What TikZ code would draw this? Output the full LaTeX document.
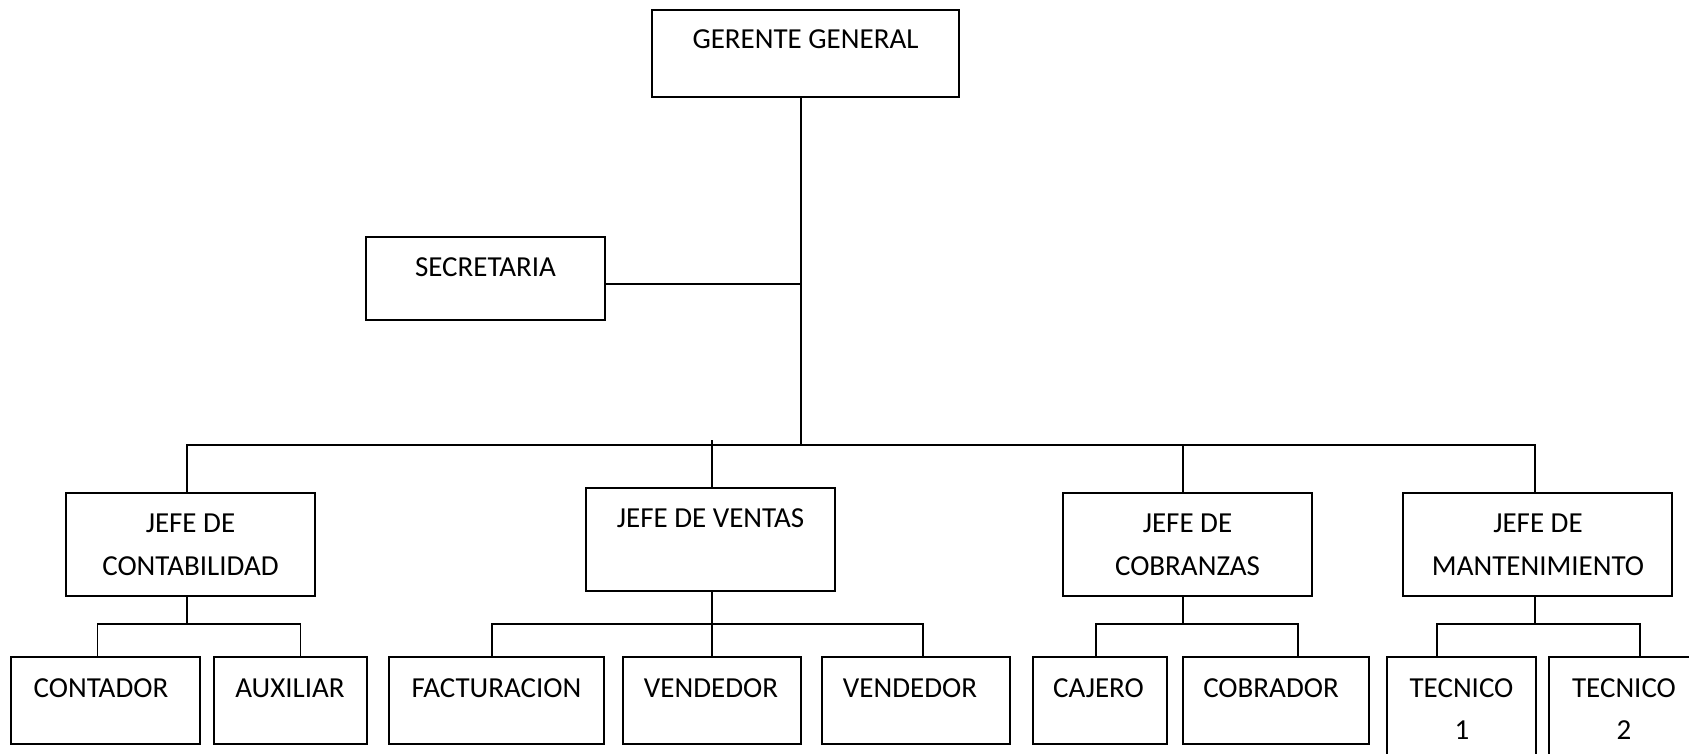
\documentclass[tikz,border=0pt]{standalone}
\usepackage{fontspec}
\setmainfont{Carlito}
\usetikzlibrary{calc}
% box given by its top-left and bottom-right corners (y grows downwards)
\newcommand\orgbox[5]{\node[box, minimum width={(#4)-(#2)}, minimum height={(#5)-(#3)}] (#1) at (#2,#3) {};}
\begin{document}
\begin{tikzpicture}[x=1pt,y=-1pt,
  box/.style={draw, line width=1.3pt, inner sep=0pt, outer sep=0pt, anchor=north west},
  txt/.style={font=\fontsize{29}{35}\selectfont, inner sep=0pt, anchor=base},
  link/.style={line width=1.3pt}]
\useasboundingbox (0,0) rectangle (1689,754);
\fill[white] (0,0) rectangle (1689,754);
\clip (0,0) rectangle (1689,754);

% boxes
\orgbox{gg}{652}{10}{959}{97}
\orgbox{sec}{366}{237}{605}{320}
\orgbox{jc}{66}{493}{315}{596}
\orgbox{jv}{586}{488}{835}{591}
\orgbox{jco}{1063}{493}{1312}{596}
\orgbox{jm}{1403}{493}{1672}{596}
\orgbox{con}{11}{657}{200}{744}
\orgbox{aux}{214}{657}{367}{744}
\orgbox{fac}{389}{657}{604}{744}
\orgbox{vd1}{623}{657}{801}{744}
\orgbox{vd2}{822}{657}{1010}{744}
\orgbox{caj}{1033}{657}{1167}{744}
\orgbox{cob}{1183}{657}{1369}{744}
\orgbox{tc1}{1387}{657}{1536}{790}
\orgbox{tc2}{1549}{657}{1699}{790}

% labels
\node[txt] (gg-t) at (805.5,49) {GERENTE GENERAL};
\node[txt] (sec-t) at (485.5,276) {SECRETARIA};
\node[txt] (jc-t1) at (190.5,532) {JEFE DE};
\node[txt] (jc-t2) at (190.5,575) {CONTABILIDAD};
\node[txt] (jv-t) at (710.5,527) {JEFE DE VENTAS};
\node[txt] (jco-t1) at (1187.5,532) {JEFE DE};
\node[txt] (jco-t2) at (1187.5,575) {COBRANZAS};
\node[txt] (jm-t1) at (1538,532) {JEFE DE};
\node[txt] (jm-t2) at (1538,575) {MANTENIMIENTO};
\node[txt] (con-t) at (101,697) {CONTADOR};
\node[txt] (aux-t) at (290,697) {AUXILIAR};
\node[txt] (fac-t) at (496.5,697) {FACTURACION};
\node[txt] (vd1-t) at (711,697) {VENDEDOR};
\node[txt] (vd2-t) at (910,697) {VENDEDOR};
\node[txt] (caj-t) at (1098.5,697) {CAJERO};
\node[txt] (cob-t) at (1271,697) {COBRADOR};
\node[txt] (tc1-t1) at (1461.5,697) {TECNICO};
\node[txt] (tc1-t2) at (1462,739) {1};
\node[txt] (tc2-t1) at (1624,697) {TECNICO};
\node[txt] (tc2-t2) at (1624,739) {2};

% top level
\coordinate (spine) at (801,445);
\draw[link] (gg.south -| spine) -- (spine);
\draw[link] ([yshift=-5.5pt]sec.east) -- ([yshift=-5.5pt]sec.east -| spine);
\draw[link] ([xshift=-3.5pt]jc.north) |- (spine) -| ([xshift=-2.5pt]jm.north);
\draw[link] ([xshift=-4.5pt]jco.north) -- ([xshift=-4.5pt]jco.north |- spine);
\draw[link] ([xshift=1.5pt]jv.north) -- ++(0,-48);

% contabilidad
\draw[link] ([xshift=-3.5pt]jc.south) -- ++(0,28);
\draw[link] ([xshift=-8pt]con.north) -- ++(0,-33) -| ([xshift=10pt]aux.north);
% ventas
\draw[link] ([xshift=1.5pt]jv.south) -- ([xshift=1.5pt]jv.south |- vd1.north);
\draw[link] ([xshift=-4.5pt]fac.north) -- ++(0,-33) -| ([xshift=7pt]vd2.north);
% cobranzas
\draw[link] ([xshift=-4.5pt]jco.south) -- ++(0,28);
\draw[link] ([xshift=-4pt]caj.north) -- ++(0,-33) -| ([xshift=22pt]cob.north);
% mantenimiento
\draw[link] ([xshift=-2.5pt]jm.south) -- ++(0,28);
\draw[link] ([xshift=-24.5pt]tc1.north) -- ++(0,-33) -| ([xshift=16pt]tc2.north);
\end{tikzpicture}
\end{document}
